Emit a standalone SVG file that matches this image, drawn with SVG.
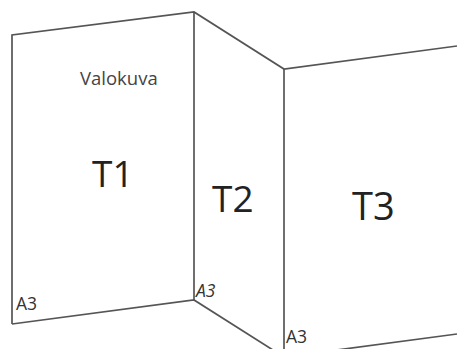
<svg xmlns="http://www.w3.org/2000/svg" width="457" height="349" viewBox="0 0 457 349">
<style>
.edge{fill:none;stroke:#555;stroke-width:1.7;stroke-linejoin:miter}
.t{font-family:"Open Sans","Liberation Sans",sans-serif;fill:#222}
.big{font-size:37px}
.small{font-size:17.5px;fill:#333}
</style>
<rect width="457" height="349" fill="#fff"/>
<g id="connectors">
<polyline class="edge" points="12,324 12,35 194,12 284,69 457,46"/>
<line class="edge" x1="194" y1="12" x2="194" y2="300"/>
<line class="edge" x1="284" y1="69" x2="284" y2="349"/>
<polyline class="edge" points="12,324 194,300 284,357 457,334"/>
</g>
<g id="T1">
<text class="t" x="80" y="85" style="font-size:18.5px;fill:#444">Valokuva</text>
<text class="t big" x="92" y="187">T1</text>
<text class="t small" x="16" y="310">A3</text>
</g>
<g id="T2">
<text class="t big" x="212" y="212">T2</text>
<text class="t small" x="196" y="297" font-style="italic">A3</text>
</g>
<g id="T3">
<text class="t" x="352" y="220" style="font-size:38px">T3</text>
<text class="t small" x="286" y="343">A3</text>
</g>
</svg>
